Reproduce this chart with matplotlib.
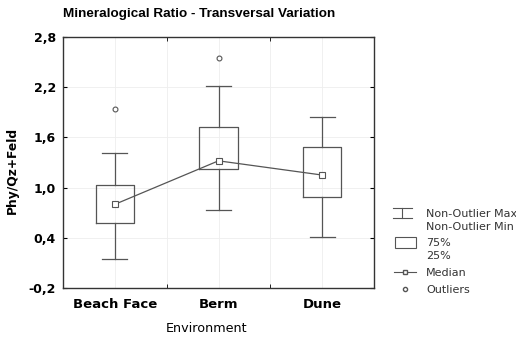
import matplotlib.pyplot as plt
from matplotlib.legend_handler import HandlerBase
from matplotlib.lines import Line2D
from matplotlib.patches import Rectangle
from matplotlib.ticker import FuncFormatter

plt.rcParams['font.family'] = ['DejaVu Sans']

# Box statistics
environments = ['Beach Face', 'Berm', 'Dune']
whis_lo = [0.15, 0.73, 0.41]
q1 = [0.58, 1.22, 0.89]
median = [0.80, 1.32, 1.15]
q3 = [1.035, 1.73, 1.48]
whis_hi = [1.41, 2.22, 1.84]
outliers = [[1.94], [2.55], []]
yticks = [-0.2, 0.4, 1.0, 1.6, 2.2, 2.8]

stats = []
for i in range(len(environments)):
    stats.append(dict(med=median[i], q1=q1[i], q3=q3[i], whislo=whis_lo[i],
                      whishi=whis_hi[i], fliers=outliers[i], label=environments[i]))

pos = list(range(1, len(environments) + 1))

fig = plt.figure(figsize=(5.16, 3.39), dpi=100)
ax = fig.add_axes([63/516, 1 - 288/339, 311/516, 251/339])

lc = '#555555'
ax.bxp(stats, positions=pos, widths=0.37, showfliers=True,
       boxprops=dict(color=lc, linewidth=0.9),
       whiskerprops=dict(color=lc, linewidth=0.9),
       capprops=dict(color=lc, linewidth=0.9),
       capwidths=0.24,
       medianprops=dict(linewidth=0),
       flierprops=dict(marker='o', markersize=3.5, markerfacecolor='white',
                       markeredgecolor=lc, markeredgewidth=0.8))
ax.plot(pos, median, color=lc, linewidth=0.9, marker='s', markersize=4,
        markerfacecolor='white', markeredgecolor=lc, markeredgewidth=0.8)

ax.set_xlim(0.5, 3.5)
ax.set_ylim(-0.2, 2.8)
ax.set_yticks(yticks)
ax.yaxis.set_major_formatter(FuncFormatter(lambda v, p: ('%.1f' % v).replace('.', ',')))
ax.set_xticks(pos)
ax.set_xticklabels(environments)
ax.set_xticks([1.5, 2.5], minor=True)
ax.tick_params(axis='x', which='major', length=0, pad=7)
ax.tick_params(axis='x', which='minor', length=3, direction='in', top=True)
ax.tick_params(axis='y', direction='in', right=True, length=3, pad=5)
for lab in ax.get_xticklabels():
    lab.set_fontweight('bold')
    lab.set_fontsize(9.5)
for lab in ax.get_yticklabels():
    lab.set_fontweight('bold')
    lab.set_fontsize(9)
ax.grid(True, which='both', color='#eeeeee', linewidth=0.6)
for s in ax.spines.values():
    s.set_color('#333333')
    s.set_linewidth(1.0)

ax.set_xlabel('Environment', fontsize=9.2)
ax.xaxis.set_label_coords((207 - 63) / 311, -(328 - 288) / 251)
ax.xaxis.label.set_va('center')
ax.set_ylabel('Phy/Qz+Feld', fontsize=8.8, fontweight='bold')
ax.yaxis.set_label_coords(-(63 - 12) / 311, (288 - 170) / 251)
ax.yaxis.label.set_va('center')
fig.text(63/516, 1 - 14/339, 'Mineralogical Ratio - Transversal Variation',
         fontsize=9.7, fontweight='bold', va='center', ha='left',
         family=['Liberation Sans', 'DejaVu Sans'])


class WhiskerHandler(HandlerBase):
    def create_artists(self, legend, orig, xd, yd, w, h, fs, trans):
        cx = xd + w / 2 - 2
        yc = yd + h / 2 + 0.68 * fs
        arts = [Line2D([cx, cx], [yc - 3.3, yc + 3.3]),
                Line2D([cx - 7, cx + 7], [yc + 3.3, yc + 3.3]),
                Line2D([cx - 7, cx + 7], [yc - 3.3, yc - 3.3])]
        for a in arts:
            a.set_color(lc)
            a.set_linewidth(0.8)
            a.set_transform(trans)
        return arts


class BoxHandler(HandlerBase):
    def create_artists(self, legend, orig, xd, yd, w, h, fs, trans):
        yc = yd + h / 2 + 0.68 * fs
        r = Rectangle((xd + 1, yc - 3.8), w - 1, 7.6, facecolor='white',
                      edgecolor=lc, linewidth=0.8, transform=trans)
        return [r]


whisk_h = Line2D([], [])
box_h = Rectangle((0, 0), 1, 1)
med_h = Line2D([], [], color=lc, linewidth=0.8, marker='s', markersize=3.5,
               markerfacecolor='white', markeredgecolor=lc)
out_h = Line2D([], [], linestyle='', marker='o', markersize=3,
               markerfacecolor='white', markeredgecolor=lc)
leg = fig.legend([whisk_h, box_h, med_h, out_h],
                 ['Non-Outlier Max\nNon-Outlier Min', '75%\n25%', 'Median', 'Outliers'],
                 handler_map={whisk_h: WhiskerHandler(), box_h: BoxHandler()},
                 loc='upper left', bbox_to_anchor=(394/516, 1 - 209/339),
                 frameon=False, fontsize=8, handlelength=2.0, handletextpad=0.9,
                 labelspacing=0.6, borderaxespad=0, borderpad=0)
for t in leg.get_texts():
    t.set_color('#333333')
    t.set_linespacing(1.35)

fig.savefig('out.png', dpi=100)
